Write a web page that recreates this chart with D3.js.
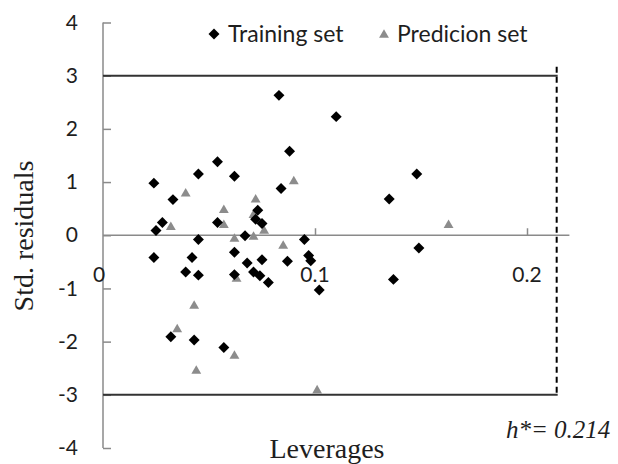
<!DOCTYPE html>
<html>
<head>
<meta charset="utf-8">
<script src="https://cdn.jsdelivr.net/npm/d3@7"></script>
<style>
	body { margin: 0; background: #fff; }
	.tick text { font-family: Lato, "Noto Sans", sans-serif; }
</style>
</head>
<body>
<div id="graph"></div>
<script>
// training set (leverage, std. residual)
var trainX = [0.024, 0.033, 0.028, 0.025, 0.045, 0.054, 0.062, 0.054, 0.045, 0.067,
	0.073, 0.072, 0.075, 0.084, 0.088, 0.083, 0.110, 0.095, 0.024, 0.042,
	0.039, 0.045, 0.062, 0.068, 0.075, 0.087, 0.062, 0.071, 0.074, 0.078,
	0.032, 0.043, 0.057, 0.097, 0.098, 0.102, 0.148, 0.135, 0.149, 0.137];
var trainY = [0.98, 0.67, 0.24, 0.09, 1.15, 1.38, 1.11, 0.24, -0.08, -0.01,
	0.47, 0.30, 0.22, 0.88, 1.58, 2.63, 2.23, -0.08, -0.42, -0.42,
	-0.69, -0.75, -0.32, -0.52, -0.46, -0.49, -0.74, -0.69, -0.76, -0.89,
	-1.91, -1.97, -2.11, -0.38, -0.48, -1.03, 1.15, 0.68, -0.24, -0.83];

// prediction set
var predX = [0.039, 0.032, 0.057, 0.057, 0.072, 0.071, 0.076, 0.071, 0.062, 0.090,
	0.085, 0.063, 0.043, 0.035, 0.062, 0.044, 0.101, 0.163];
var predY = [0.78, 0.15, 0.47, 0.19, 0.67, 0.38, 0.08, -0.03, -0.07, 1.01,
	-0.20, -0.82, -1.33, -1.77, -2.27, -2.55, -2.92, 0.19];

var xTicks = [0, 0.1, 0.2];
var yTicks = [-4, -3, -2, -1, 0, 1, 2, 3, 4];
var hStar = 0.214;
var limit = 3;

var w = 618;
var h = 464;

var xScale = d3.scaleLinear()
	.domain([0, 0.22])
	.range([103, 569.4]);
var yScale = d3.scaleLinear()
	.domain([-4, 4])
	.range([448, 22.5]);

var svg = d3.select("#graph")
	.append("svg")
	.attr("width", w)
	.attr("height", h);

svg.append("rect")
	.attr("width", w)
	.attr("height", h)
	.attr("fill", "white");

// y axis
var yAxis = d3.axisRight(yScale)
	.tickValues(yTicks)
	.tickSize(8)
	.tickFormat(function (d) { return String(d); });

var yg = svg.append("g")
	.attr("transform", "translate(" + xScale(0) + ",0)")
	.call(yAxis);
yg.select(".domain")
	.attr("stroke", "#8a8a8a")
	.attr("stroke-width", 1.5)
	.attr("d", "M0," + yScale(4) + "V" + yScale(-4));
yg.selectAll(".tick line")
	.attr("stroke", "#8a8a8a")
	.attr("stroke-width", 1.5);
yg.selectAll(".tick text")
	.attr("x", -25)
	.attr("text-anchor", "end")
	.attr("fill", "#1e1e1e")
	.style("font-size", "21px");

// x axis sits on y = 0
var xAxis = d3.axisTop(xScale)
	.tickValues(xTicks.slice(1))
	.tickSize(7)
	.tickFormat(d3.format(".1f"));

var xg = svg.append("g")
	.attr("transform", "translate(0," + yScale(0) + ")")
	.call(xAxis);
xg.select(".domain")
	.attr("stroke", "#8a8a8a")
	.attr("stroke-width", 1.5)
	.attr("d", "M" + xScale(0) + ",0H" + xScale(0.22));
xg.selectAll(".tick line")
	.attr("stroke", "#8a8a8a")
	.attr("stroke-width", 1.5);
xg.selectAll(".tick text").remove();

// tick labels hang well below the axis line
svg.selectAll(".xlab")
	.data(xTicks)
	.enter()
	.append("text")
	.attr("class", "xlab")
	.attr("x", function (d) { return xScale(d) - (d == 0 ? 4 : 0); })
	.attr("y", yScale(0) + 47)
	.attr("text-anchor", "middle")
	.attr("fill", "#1e1e1e")
	.style("font-family", "Lato, 'Noto Sans', sans-serif")
	.style("font-size", "21px")
	.text(function (d) { return d == 0 ? "0" : d3.format(".1f")(d); });

// +-3 limit lines
svg.selectAll(".limit")
	.data([limit, -limit])
	.enter()
	.append("line")
	.attr("class", "limit")
	.attr("x1", xScale(0))
	.attr("x2", xScale(hStar) + 1)
	.attr("y1", function (d) { return yScale(d); })
	.attr("y2", function (d) { return yScale(d); })
	.attr("stroke", "#333")
	.attr("stroke-width", 2);

// warning leverage h*
svg.append("line")
	.attr("x1", xScale(hStar))
	.attr("x2", xScale(hStar))
	.attr("y1", yScale(limit) - 9)
	.attr("y2", yScale(-limit))
	.attr("stroke", "black")
	.attr("stroke-width", 2)
	.attr("stroke-dasharray", "6,4");

var diamond = d3.symbol().type(d3.symbolSquare).size(60);
var triangle = d3.symbol().type(d3.symbolTriangle).size(42);

svg.append("g")
	.selectAll("path")
	.data(d3.range(predX.length))
	.enter()
	.append("path")
	.attr("d", triangle)
	.attr("transform", function (i) {
		return "translate(" + xScale(predX[i]) + "," + yScale(predY[i]) + ")";
	})
	.attr("fill", "#8c8c8c");

svg.append("g")
	.selectAll("path")
	.data(d3.range(trainX.length))
	.enter()
	.append("path")
	.attr("d", diamond)
	.attr("transform", function (i) {
		return "translate(" + xScale(trainX[i]) + "," + yScale(trainY[i]) + ") rotate(45)";
	})
	.attr("fill", "black");

// legend
svg.append("path")
	.attr("d", diamond)
	.attr("transform", "translate(214,34) rotate(45)")
	.attr("fill", "black");
svg.append("text")
	.attr("x", 228)
	.attr("y", 42)
	.attr("fill", "#1e1e1e")
	.style("font-family", "Lato, 'Noto Sans', sans-serif")
	.style("font-size", "23px")
	.text("Training set");

svg.append("path")
	.attr("d", triangle)
	.attr("transform", "translate(384,35)")
	.attr("fill", "#8c8c8c");
svg.append("text")
	.attr("x", 397)
	.attr("y", 42)
	.attr("fill", "#1e1e1e")
	.style("font-family", "Lato, 'Noto Sans', sans-serif")
	.style("font-size", "23px")
	.text("Predicion set");

// axis titles
svg.append("text")
	.attr("transform", "translate(33,236) rotate(-90)")
	.attr("text-anchor", "middle")
	.attr("fill", "#1e1e1e")
	.style("font-family", "'Liberation Serif', 'Times New Roman', serif")
	.style("font-size", "28px")
	.text("Std. residuals");

svg.append("text")
	.attr("x", 327)
	.attr("y", 458)
	.attr("text-anchor", "middle")
	.attr("fill", "#1e1e1e")
	.style("font-family", "'Liberation Serif', 'Times New Roman', serif")
	.style("font-size", "28px")
	.text("Leverages");

svg.append("text")
	.attr("x", 506)
	.attr("y", 438)
	.attr("fill", "#1e1e1e")
	.style("font-family", "'Liberation Serif', 'Times New Roman', serif")
	.style("font-style", "italic")
	.style("font-size", "25px")
	.text("h*= " + hStar);
</script>
</body>
</html>
